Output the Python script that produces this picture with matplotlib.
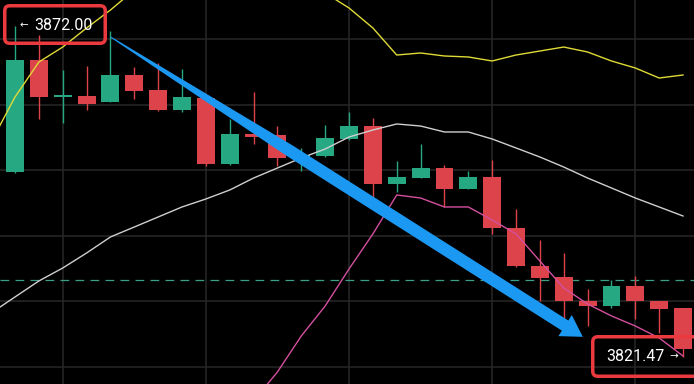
import numpy as np
import matplotlib
matplotlib.use("Agg")
import matplotlib.pyplot as plt
from matplotlib.patches import Polygon, FancyBboxPatch, Rectangle

# ---------------- data ----------------
opens  = [3849.77, 3866.87, 3861.22, 3861.37, 3860.46, 3864.58, 3862.29, 3859.24, 3861.07, 3851.00,
          3855.57, 3855.42, 3851.91, 3852.21, 3854.81, 3856.79, 3847.94, 3848.85, 3850.38, 3847.18,
          3849.01, 3841.22, 3835.42, 3833.74, 3830.08, 3829.31, 3832.37, 3830.08, 3829.00]
highs  = [3872.00, 3870.69, 3865.34, 3865.95, 3871.30, 3865.80, 3866.41, 3865.50, 3861.22, 3857.86,
          3861.98, 3856.79, 3853.44, 3856.95, 3858.93, 3858.02, 3851.45, 3854.05, 3850.84, 3849.92,
          3851.60, 3844.12, 3839.39, 3837.40, 3831.91, 3833.28, 3833.89, 3830.10, 3829.00]
lows   = [3849.60, 3857.86, 3857.25, 3859.24, 3860.40, 3860.92, 3859.10, 3858.93, 3850.69, 3850.90,
          3854.05, 3850.69, 3849.92, 3852.10, 3854.70, 3845.65, 3846.72, 3848.80, 3844.43, 3847.10,
          3840.31, 3835.30, 3830.08, 3827.33, 3826.26, 3829.00, 3827.33, 3825.19, 3821.47]
closes = [3866.87, 3861.22, 3861.45, 3860.15, 3864.58, 3862.14, 3859.24, 3861.22, 3851.00, 3855.57,
          3855.11, 3851.91, 3852.37, 3854.96, 3856.79, 3847.94, 3849.01, 3850.38, 3847.18, 3849.01,
          3841.22, 3835.42, 3833.59, 3830.08, 3829.31, 3832.37, 3830.08, 3828.85, 3822.75]

# Bollinger bands: first value belongs to the bar just left of the visible window
boll_upper = [3854.35,
              3861.22, 3866.56, 3868.85, 3871.76, 3874.50, 3877.56, 3879.85, 3882.14, 3883.66, 3883.66,
              3882.90, 3881.53, 3879.08, 3877.10, 3874.81, 3871.76, 3867.63, 3867.94, 3867.48, 3867.33,
              3866.72, 3867.63, 3868.24, 3868.85, 3868.09, 3866.72, 3865.65, 3864.12, 3864.58]
boll_mid   = [3828.24,
              3830.69, 3833.13, 3835.11, 3837.40, 3839.85, 3841.37, 3842.90, 3844.43, 3845.65, 3847.02,
              3848.85, 3850.38, 3851.91, 3853.28, 3855.11, 3856.18, 3857.10, 3856.79, 3855.88, 3855.88,
              3854.81, 3853.44, 3852.06, 3850.53, 3848.85, 3847.33, 3845.80, 3844.43, 3843.05]
boll_lower = [3802.10,
              3800.15, 3799.69, 3801.37, 3803.05, 3805.19, 3805.19, 3805.95, 3806.72, 3807.63, 3810.38,
              3814.81, 3819.24, 3824.73, 3829.31, 3834.96, 3840.31, 3846.26, 3845.80, 3844.43, 3844.43,
              3842.44, 3840.31, 3836.18, 3832.06, 3829.62, 3827.79, 3826.26, 3824.43, 3821.68]

price_line = 3833.28
high_label = 3872.00
low_label = 3821.47
grid_prices = [3820, 3830, 3840, 3850, 3860, 3870]
grid_indices = [2, 8, 14, 20, 26]
arrow_start = (4.0, 3870.4)
arrow_end = (23.8, 3824.6)

# ---------------- style ----------------
W, H = 694, 384
UP, DOWN = "#26a883", "#dc434a"
GRID = "#282828"
BOX_RED = "#ea3a3f"
ARROW = "#1b98f2"

fig = plt.figure(figsize=(W / 100, H / 100), dpi=100, facecolor="black")
ax = fig.add_axes([0, 0, 1, 1])
ax.set_facecolor("black")
ax.set_xlim(-0.629, 28.46)
ax.set_ylim(3817.40, 3876.03)
ax.axis("off")

for gp in grid_prices:
    ax.axhline(gp, color=GRID, lw=1.1, zorder=0)
for gi in grid_indices:
    ax.axvline(gi, color=GRID, lw=1.1, zorder=0)

ax.axhline(price_line, color="#3a9f86", lw=0.9, dashes=(7, 5), zorder=1)

n = len(opens)
x = np.arange(n)
bw = 0.75
for i in range(n):
    o, h, l, c = opens[i], highs[i], lows[i], closes[i]
    col = UP if c >= o else DOWN
    ax.plot([i, i], [l, h], color=col, lw=1.0, zorder=2, solid_capstyle="butt")
    bottom = min(o, c)
    height = max(abs(c - o), 0.2)
    ax.add_patch(Rectangle((i - bw / 2, bottom), bw, height, facecolor=col,
                           edgecolor="none", zorder=3))

xb = np.arange(-1, n)
ax.plot(xb, boll_upper, color="#e0da36", lw=1.0, zorder=4)
ax.plot(xb, boll_mid, color="#cfcfcf", lw=1.0, zorder=4)
ax.plot(xb, boll_lower, color="#d4509f", lw=1.0, zorder=4)

# ---------------- arrow (tapered shaft + head, built in pixel space) ----------------
fig.canvas.draw()
p0 = ax.transData.transform(arrow_start)
p1 = ax.transData.transform(arrow_end)
d = p1 - p0
length = np.hypot(*d)
u = d / length
nrm = np.array([-u[1], u[0]])
head_len, head_half = 21.0, 12.5
shaft_half = 6.0
taper_t = 0.38
base = p1 - u * head_len
pt_taper = p0 + u * (length * taper_t)
pts = [p0 + nrm * 0.5, pt_taper + nrm * shaft_half, base + nrm * shaft_half,
       base + nrm * head_half, p1, base - nrm * head_half, base - nrm * shaft_half,
       pt_taper - nrm * shaft_half, p0 - nrm * 0.5]
ax.add_patch(Polygon(pts, closed=True, facecolor=ARROW, edgecolor="none",
                     transform=None, zorder=6))

# ---------------- labels ----------------
def pxbox(x0, y0, x1, y1):
    # pixel coords from top-left -> display coords
    return x0, H - y1, x1 - x0, y1 - y0

lw_px = 3.5
for (x0, y0, x1, y1) in [(3, 4, 107, 45), (591, 335, 720, 378)]:
    bx, by, bwid, bht = pxbox(x0 + lw_px / 2, y0 + lw_px / 2, x1 - lw_px / 2, y1 - lw_px / 2)
    fig.patches.append(FancyBboxPatch((bx, by), bwid, bht,
                                      boxstyle="round,pad=0,rounding_size=5",
                                      facecolor="none", edgecolor=BOX_RED,
                                      lw=lw_px * 0.72, transform=None, zorder=10))

fam = ["Roboto", "DejaVu Sans"]
fig.text(19 / W, 1 - 25.5 / H, "\u2190", color="white", fontsize=7.5, family=fam,
         ha="left", va="center", zorder=11)
fig.text(34 / W, 1 - 25.5 / H, f"{high_label:.2f}", color="white", fontsize=11.5,
         family=fam, ha="left", va="center", zorder=11)
fig.text(606 / W, 1 - 356.5 / H, f"{low_label:.2f}", color="white", fontsize=11.5,
         family=fam, ha="left", va="center", zorder=11)
fig.text(669 / W, 1 - 356.5 / H, "\u2192", color="white", fontsize=7.5, family=fam,
         ha="left", va="center", zorder=11)

fig.savefig("out.png", dpi=100, facecolor="black")
